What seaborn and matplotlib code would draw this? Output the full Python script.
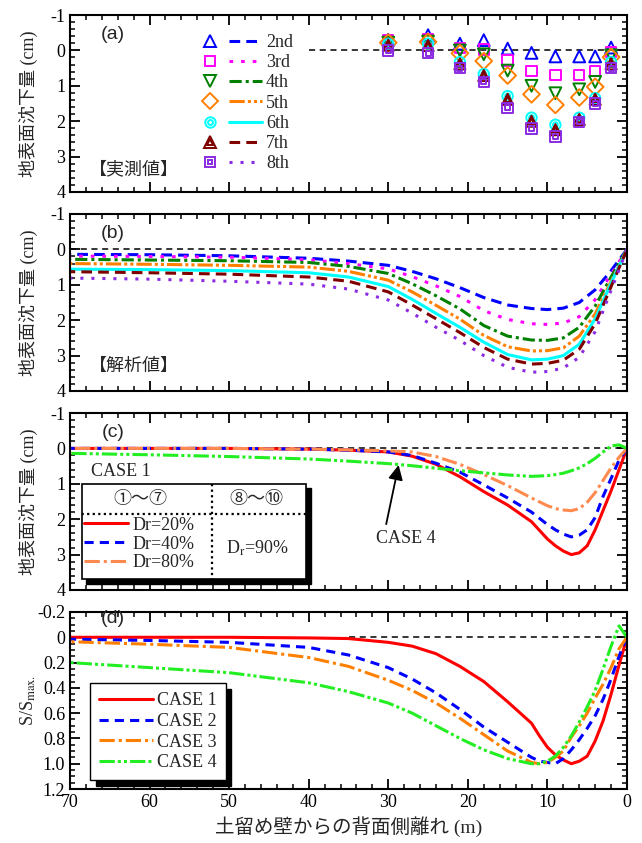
import numpy as np
import pandas as pd
import matplotlib
matplotlib.use("Agg")
import matplotlib.pyplot as plt
from matplotlib.lines import Line2D
from matplotlib.patches import Rectangle
from matplotlib.legend_handler import HandlerTuple
from matplotlib.ticker import MultipleLocator
import seaborn as sns

# -----------------------------
# (a) measured settlement (cm)
# -----------------------------
meas_x = [30, 25, 21, 18, 15, 12, 9, 6, 4, 2]
meas = {
    "2nd": [-0.30, -0.43, -0.19, -0.29, -0.05, 0.07, 0.17, 0.17, 0.17, -0.08],
    "3rd": [-0.30, -0.33, -0.07, -0.03, 0.29, 0.59, 0.70, 0.70, 0.59, 0.05],
    "4th": [-0.22, -0.25, 0.00, 0.11, 0.57, 1.00, 1.21, 1.10, 0.89, 0.14],
    "5th": [-0.22, -0.24, 0.08, 0.30, 0.71, 1.24, 1.54, 1.33, 1.03, 0.19],
    "6th": [-0.18, -0.19, 0.33, 0.67, 1.29, 1.90, 2.10, 1.90, 1.35, 0.33],
    "7th": [-0.15, -0.14, 0.38, 0.71, 1.38, 2.00, 2.24, 1.95, 1.38, 0.38],
    "8th": [0.00, 0.08, 0.50, 0.89, 1.62, 2.21, 2.43, 2.02, 1.50, 0.50],
}

# -----------------------------
# (b) analysis settlement (cm)
# -----------------------------
calc_x = [70, 60, 50, 40, 35, 30, 27, 24, 21, 18, 15, 12, 10, 8, 6, 4, 2, 0]
calc = {
    "2nd": [0.14, 0.15, 0.18, 0.25, 0.33, 0.45, 0.62, 0.83, 1.08, 1.36, 1.57, 1.67, 1.70, 1.66, 1.50, 1.14, 0.60, 0.0],
    "3rd": [0.19, 0.20, 0.22, 0.29, 0.40, 0.55, 0.77, 1.03, 1.33, 1.73, 1.98, 2.10, 2.12, 2.08, 1.90, 1.42, 0.70, 0.0],
    "4th": [0.28, 0.30, 0.32, 0.37, 0.48, 0.68, 0.97, 1.31, 1.68, 2.15, 2.45, 2.56, 2.57, 2.50, 2.20, 1.60, 0.78, 0.0],
    "5th": [0.40, 0.42, 0.45, 0.50, 0.62, 0.87, 1.20, 1.58, 1.97, 2.43, 2.75, 2.87, 2.86, 2.78, 2.45, 1.82, 0.90, 0.0],
    "6th": [0.56, 0.57, 0.60, 0.66, 0.78, 1.05, 1.41, 1.81, 2.20, 2.62, 2.97, 3.12, 3.10, 3.00, 2.68, 1.96, 0.95, 0.0],
    "7th": [0.63, 0.66, 0.70, 0.78, 0.90, 1.20, 1.57, 1.96, 2.35, 2.77, 3.10, 3.24, 3.22, 3.13, 2.82, 2.10, 1.05, 0.0],
    "8th": [0.81, 0.84, 0.90, 0.98, 1.12, 1.43, 1.80, 2.20, 2.57, 3.00, 3.33, 3.47, 3.45, 3.35, 3.05, 2.32, 1.15, 0.0],
}

# -----------------------------
# (c) settlement by case (cm)
# -----------------------------
case_x = [70, 60, 50, 40, 35, 30, 27, 24, 21, 18, 15, 12, 10, 9, 8, 7, 6, 5, 4, 3, 2, 1, 0]
case_dr20 = [0.0, 0.0, 0.0, 0.02, 0.05, 0.10, 0.22, 0.45, 0.80, 1.22, 1.60, 2.07, 2.56, 2.75, 2.90, 3.00, 2.95, 2.75, 2.30, 1.75, 1.20, 0.60, 0.0]
case_dr40 = [0.0, 0.0, 0.0, 0.02, 0.05, 0.10, 0.20, 0.42, 0.67, 1.03, 1.40, 1.80, 2.15, 2.30, 2.42, 2.50, 2.45, 2.30, 1.95, 1.35, 0.85, 0.33, 0.0]
case_dr80 = [0.0, 0.0, 0.0, 0.02, 0.04, 0.07, 0.10, 0.23, 0.45, 0.74, 1.05, 1.40, 1.62, 1.70, 1.74, 1.76, 1.70, 1.52, 1.25, 0.90, 0.55, 0.25, 0.0]
case_4 = [0.14, 0.18, 0.23, 0.30, 0.36, 0.43, 0.49, 0.56, 0.63, 0.69, 0.75, 0.79, 0.77, 0.74, 0.70, 0.63, 0.55, 0.43, 0.28, 0.10, -0.07, -0.10, 0.0]

# -----------------------------
# (d) normalised settlement S/Smax
# -----------------------------
norm_x = [70, 60, 50, 40, 35, 30, 27, 24, 21, 18, 15, 12, 11, 10, 9, 8, 7, 6, 5, 4, 3, 2, 1, 0]
norm = {
    "CASE 1": [0.0, 0.0, 0.0, 0.005, 0.01, 0.04, 0.07, 0.13, 0.23, 0.35, 0.51, 0.68, 0.78, 0.87, 0.93, 0.97, 1.00, 0.98, 0.94, 0.82, 0.66, 0.45, 0.22, 0.0],
    "CASE 2": [0.015, 0.025, 0.04, 0.08, 0.14, 0.24, 0.33, 0.44, 0.57, 0.71, 0.83, 0.95, 0.98, 0.99, 1.00, 0.96, 0.89, 0.81, 0.72, 0.62, 0.49, 0.33, 0.15, 0.0],
    "CASE 3": [0.035, 0.055, 0.08, 0.16, 0.23, 0.34, 0.42, 0.52, 0.64, 0.77, 0.90, 0.99, 1.00, 0.99, 0.95, 0.90, 0.79, 0.70, 0.60, 0.48, 0.37, 0.24, 0.09, 0.0],
    "CASE 4": [0.20, 0.24, 0.28, 0.36, 0.43, 0.52, 0.60, 0.70, 0.80, 0.89, 0.96, 1.00, 1.00, 0.98, 0.94, 0.87, 0.78, 0.67, 0.55, 0.42, 0.25, 0.07, -0.09, 0.0],
}

y_ticks_cm = [-1, 0, 1, 2, 3, 4]
y_ticks_norm = [-0.2, 0.0, 0.2, 0.4, 0.6, 0.8, 1.0, 1.2]
y_labels_norm = ["-0.2", "0", "0.2", "0.4", "0.6", "0.8", "1.0", "1.2"]

# -----------------------------
# styles
# -----------------------------
stage_style = {
    "2nd": dict(color="#0000ff", ls=(0, (3.5, 2))),
    "3rd": dict(color="#ff00ff", ls=(0, (1.2, 2.6))),
    "4th": dict(color="#008000", ls=(0, (4, 1.3, 1, 1.3))),
    "5th": dict(color="#ff8000", ls=(0, (5, 1, 1, 1, 1, 1))),
    "6th": dict(color="#00ffff", ls="-"),
    "7th": dict(color="#800000", ls=(0, (3.5, 2))),
    "8th": dict(color="#8b2be2", ls=(0, (1, 2.6))),
}
# outer marker, size, inner marker, inner size
stage_marker = {
    "2nd": ("^", 8.5, None, 0),
    "3rd": ("s", 7.5, None, 0),
    "4th": ("v", 8.5, None, 0),
    "5th": ("D", 8.5, None, 0),
    "6th": ("o", 7.5, "o", 3.5),
    "7th": ("^", 8, "^", 4),
    "8th": ("s", 7.5, "s", 3.5),
}
case_style = {
    "CASE 1": dict(color="#ff0000", ls="-"),
    "CASE 2": dict(color="#0000ff", ls=(0, (3, 2))),
    "CASE 3": dict(color="#ff8000", ls=(0, (5, 1.3, 1, 1.3))),
    "CASE 4": dict(color="#22ee22", ls=(0, (5, 1, 1, 1, 1, 1))),
}
dr80_color = "#ff8a50"

sns.set_style("ticks")
plt.rcParams["font.family"] = ["Liberation Serif", "Noto Sans CJK JP"]
plt.rcParams["mathtext.fontset"] = "stix"
plt.rcParams.update({
    "axes.linewidth": 1.5,
    "xtick.direction": "in", "ytick.direction": "in",
    "xtick.top": True, "ytick.right": True,
    "xtick.major.size": 7, "ytick.major.size": 7,
    "xtick.minor.size": 3.5, "ytick.minor.size": 3.5,
    "xtick.major.width": 1.3, "ytick.major.width": 1.3,
    "xtick.minor.width": 1.1, "ytick.minor.width": 1.1,
    "xtick.labelsize": 13, "ytick.labelsize": 13,
    "axes.edgecolor": "black",
})
cjk = ["Noto Sans CJK JP", "Liberation Serif"]
LW = 2.2
YLAB_X = -0.058

fig = plt.figure(figsize=(6.42, 8.43), dpi=100)
L, W, H = 70 / 642, 557 / 642, 177 / 843
bottoms = [1 - 192 / 843, 1 - 391 / 843, 1 - 590 / 843, 1 - 789 / 843]
ax_a, ax_b, ax_c, ax_d = [fig.add_axes([L, b, W, H]) for b in bottoms]


def frame(ax, ylim, ticks, labels, minor):
    ax.set_xlim(70, 0)
    ax.set_ylim(ylim)
    ax.xaxis.set_major_locator(MultipleLocator(10))
    ax.xaxis.set_minor_locator(MultipleLocator(2))
    ax.set_yticks(ticks, labels)
    ax.yaxis.set_minor_locator(MultipleLocator(minor))
    ax.tick_params(which="both", direction="in", top=True, right=True, colors="black")
    ax.tick_params(axis="x", labelbottom=False)
    ax.set_xlabel("")
    ax.yaxis.set_label_coords(YLAB_X, 0.5)
    for s in ax.spines.values():
        s.set_linewidth(1.5)


for ax in (ax_a, ax_b, ax_c):
    frame(ax, (4, -1), y_ticks_cm, [str(t) for t in y_ticks_cm], 0.2)
    ax.set_ylabel("地表面沈下量 (cm)", fontsize=13)
frame(ax_d, (1.2, -0.2), y_ticks_norm, y_labels_norm, 0.05)
ax_d.set_ylabel("S/S$_{\\mathrm{max.}}$", fontsize=13)
ax_d.tick_params(axis="x", labelbottom=True)

# -----------------------------
# (a) measured values
# -----------------------------
ax_a.hlines(0, 40, 0, colors="black", linestyles=(0, (4, 3)), lw=1.1)
legend_handles = []
for name, vals in meas.items():
    col = stage_style[name]["color"]
    mk, ms, inner, ims = stage_marker[name]
    df = pd.DataFrame({"x": meas_x, "y": vals})
    sns.scatterplot(data=df, x="x", y="y", ax=ax_a, marker=mk, s=ms ** 2,
                    color=col, facecolor="none", edgecolor=col, linewidth=1.4, zorder=3)
    outer_h = Line2D([], [], marker=mk, ms=ms, mfc="none", mec=col, mew=1.4, ls="none")
    line_h = Line2D([], [], lw=LW, **stage_style[name])
    if inner:
        sns.scatterplot(data=df, x="x", y="y", ax=ax_a, marker=inner, s=ims ** 2,
                        color=col, facecolor="none", edgecolor=col, linewidth=1.4, zorder=3)
        inner_h = Line2D([], [], marker=inner, ms=ims, mfc="none", mec=col, mew=1.4, ls="none")
        legend_handles.append((outer_h, line_h, inner_h))
    else:
        legend_handles.append((outer_h, line_h))
ax_a.legend(legend_handles, list(meas.keys()),
            handler_map={tuple: HandlerTuple(ndivide=2, pad=0.15)},
            loc="upper left", bbox_to_anchor=(0.222, 0.893), frameon=False,
            fontsize=13, handlelength=3.8, handletextpad=0.2, labelspacing=0.18,
            borderpad=0, borderaxespad=0)
ax_a.set_ylabel("地表面沈下量 (cm)", fontsize=13)
ax_a.set_xlabel("")
ax_a.text(64.6, -0.45, "(a)", family="Liberation Sans", fontsize=14, ha="center", va="center")
ax_a.text(62, 3.35, "【実測値】", family=cjk, fontsize=13, ha="center", va="center")

# -----------------------------
# (b) analysis values
# -----------------------------
ax_b.axhline(0, color="black", ls=(0, (4, 3)), lw=1.1)
for name, vals in calc.items():
    sns.lineplot(x=calc_x, y=vals, ax=ax_b, lw=LW, estimator=None, **stage_style[name])
ax_b.text(64.6, -0.45, "(b)", family="Liberation Sans", fontsize=14, ha="center", va="center")
ax_b.text(62, 3.3, "【解析値】", family=cjk, fontsize=13, ha="center", va="center")

# -----------------------------
# (c) Dr comparison
# -----------------------------
ax_c.axhline(0, color="black", ls=(0, (4, 3)), lw=1.1)
c_series = [("Dr=20%", case_dr20, case_style["CASE 1"]),
            ("Dr=40%", case_dr40, case_style["CASE 2"]),
            ("Dr=80%", case_dr80, dict(color=dr80_color, ls=(0, (5, 1.3, 1, 1.3))))]
c_handles = []
for lab, vals, st in c_series:
    sns.lineplot(x=case_x, y=vals, ax=ax_c, lw=LW, estimator=None, **st)
    c_handles.append(Line2D([], [], lw=LW, **st))
sns.lineplot(x=case_x, y=case_4, ax=ax_c, lw=LW, estimator=None, **case_style["CASE 4"])

# table box
bx0, bx1, by0, by1 = 40.3, 68.5, 1.0, 3.7
ax_c.add_patch(Rectangle((bx0 - 0.55, by0 + 0.12), bx1 - bx0, by1 - by0,
                         facecolor="black", edgecolor="black", zorder=5))
ax_c.add_patch(Rectangle((bx0, by0), bx1 - bx0, by1 - by0,
                         facecolor="white", edgecolor="black", lw=1.2, zorder=6))
ax_c.hlines(1.86, bx0, bx1, colors="black", linestyles=(0, (1, 1.5)), lw=1.6, zorder=7)
ax_c.vlines(52.2, by0, by1, colors="black", linestyles=(0, (1, 1.5)), lw=1.6, zorder=7)
ax_c.text(61.1, 1.42, "①〜⑦", family=cjk, fontsize=13, ha="center", va="center", zorder=8)
ax_c.text(46.6, 1.42, "⑧〜⑩", family=cjk, fontsize=13, ha="center", va="center", zorder=8)
ax_c.text(46.4, 2.81, "D$_\\mathrm{r}$=90%", fontsize=13, ha="center", va="center", zorder=8)
leg_c = ax_c.legend(c_handles, [s[0] for s in c_series], loc="upper left",
                    bbox_to_anchor=(68.2, 1.93), bbox_transform=ax_c.transData,
                    frameon=False, fontsize=13, handlelength=2.4, handletextpad=0.25,
                    labelspacing=0.1, borderpad=0, borderaxespad=0)
leg_c.set_zorder(9)
ax_c.text(63.6, 0.64, "CASE 1", fontsize=13, ha="center", va="center")
ax_c.annotate("CASE 4", xy=(28.7, 0.47), xytext=(27.8, 2.55), fontsize=13,
              ha="center", va="center",
              arrowprops=dict(arrowstyle="-|>", color="black", lw=1.3,
                              mutation_scale=22, relpos=(0.15, 1.0), shrinkA=2, shrinkB=0))
ax_c.text(64.6, -0.45, "(c)", family="Liberation Sans", fontsize=14, ha="center", va="center")

# -----------------------------
# (d) normalised
# -----------------------------
ax_d.hlines(0, 35, 0, colors="black", linestyles=(0, (4, 3)), lw=1.1)
d_handles = []
for name, vals in norm.items():
    sns.lineplot(x=norm_x, y=vals, ax=ax_d, lw=LW, estimator=None, **case_style[name])
    d_handles.append(Line2D([], [], lw=LW, **case_style[name]))
ax_d.legend(d_handles, list(norm.keys()), loc="lower left", bbox_to_anchor=(0.036, 0.05),
            fontsize=13, handlelength=3.0, handletextpad=0.2, labelspacing=0.2,
            fancybox=False, edgecolor="black", framealpha=1, borderpad=0.5, borderaxespad=0,
            shadow={"ox": 4, "oy": -4, "facecolor": "black", "edgecolor": "black", "alpha": 1})
ax_d.get_legend().get_frame().set_linewidth(1.0)
ax_d.set_xlabel("土留め壁からの背面側離れ (m)", fontsize=14, visible=True)
ax_d.text(64.6, -0.145, "(d)", family="Liberation Sans", fontsize=14, ha="center", va="center")

plt.savefig("out.png", dpi=100)
